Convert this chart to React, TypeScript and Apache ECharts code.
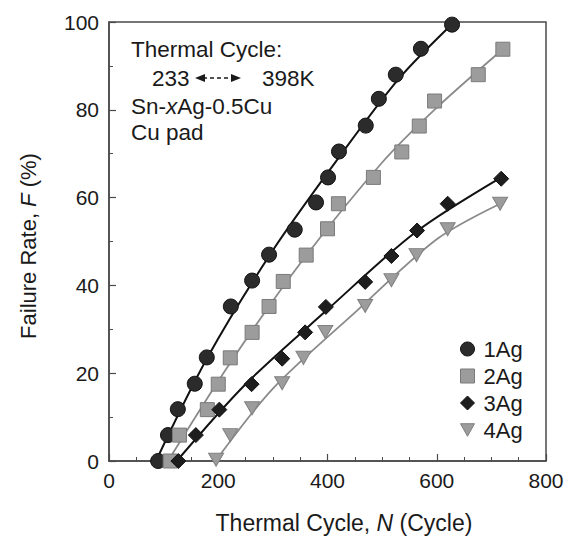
import React, { useEffect, useRef } from 'react';
import * as echarts from 'echarts';

const FONT = '"Liberation Sans", Arial, Helvetica, sans-serif';

const seriesNames = ['1Ag', '2Ag', '3Ag', '4Ag'];
const xTicks = [0, 200, 400, 600, 800];
const yTicks = [0, 20, 40, 60, 80, 100];

// measured points (cycles, failure rate %)
const ag1Cycles = [90, 108, 126, 157, 179, 223, 262, 293, 340, 379, 401, 421, 470, 494, 525, 571, 628];
const ag1Rates = [0, 5.9, 11.8, 17.6, 23.6, 35.2, 41.1, 47.0, 52.7, 58.9, 64.6, 70.5, 76.4, 82.5, 88.0, 93.9, 99.4];
const ag2Cycles = [112, 129, 180, 200, 222, 262, 293, 319, 361, 400, 420, 484, 536, 568, 596, 676, 721];
const ag2Rates = [0, 5.9, 11.7, 17.5, 23.5, 29.3, 35.2, 40.9, 46.9, 52.9, 58.6, 64.6, 70.4, 76.3, 82.0, 88.0, 93.8];
const ag3Cycles = [127, 159, 202, 261, 317, 359, 397, 469, 517, 564, 620, 718];
const ag3Rates = [0, 5.9, 11.7, 17.5, 23.3, 29.3, 35.1, 40.8, 46.7, 52.5, 58.6, 64.3];
const ag4Cycles = [196, 222, 262, 317, 356, 396, 469, 517, 563, 620, 716];
const ag4Rates = [0.3, 5.9, 12.0, 17.7, 23.5, 29.4, 35.3, 41.2, 46.9, 52.8, 58.6];

// fitted curves
const ag1FitCycles = [86, 180, 300, 420, 530, 632];
const ag1FitRates = [0, 23.5, 48, 69, 87, 100];
const ag2FitCycles = [108, 220, 350, 500, 600, 721];
const ag2FitRates = [0, 22, 45, 68, 80.5, 93.8];
const ag3FitCycles = [124, 250, 400, 560, 718];
const ag3FitRates = [0, 17.5, 34.5, 52, 64.6];
const ag4FitCycles = [195, 300, 450, 600, 716];
const ag4FitRates = [0, 16.5, 33.8, 50.5, 58.6];

const pairs = (xs: number[], ys: number[]) => xs.map((x, i) => [x, ys[i]]);

const TRI = 'path://M0,0L10,0L5,9Z';

export default function App() {
  const ref = useRef<HTMLDivElement>(null);
  useEffect(() => {
    if (!ref.current) return;
    const chart = echarts.init(ref.current, undefined, { renderer: 'svg' });
    const textColor = '#1a1a1a';
    const axisColor = '#4a4a4a';
    const axisCommon = {
      axisLine: { show: true, lineStyle: { color: axisColor, width: 1.5 } },
      axisTick: { show: true, inside: true, length: 7, lineStyle: { color: axisColor, width: 1.2 } },
      minorTick: { show: true, length: 4, lineStyle: { color: axisColor, width: 1 } },
      splitLine: { show: false },
      axisLabel: { fontSize: 21, color: textColor, fontFamily: FONT },
    };
    const markers = [
      { symbol: 'circle', size: 15, color: '#2b2b2b', border: '#111' },
      { symbol: 'rect', size: 14, color: '#9c9c9c', border: '#7a7a7a' },
      { symbol: 'diamond', size: 15, color: '#1e1e1e', border: '#111' },
      { symbol: TRI, size: [15, 13], color: '#9c9c9c', border: '#808080' },
    ];
    const data = [pairs(ag1Cycles, ag1Rates), pairs(ag2Cycles, ag2Rates), pairs(ag3Cycles, ag3Rates), pairs(ag4Cycles, ag4Rates)];
    const fits = [pairs(ag1FitCycles, ag1FitRates), pairs(ag2FitCycles, ag2FitRates), pairs(ag3FitCycles, ag3FitRates), pairs(ag4FitCycles, ag4FitRates)];
    const lineColors = ['#111', '#8a8a8a', '#111', '#8a8a8a'];
    const lineWidths = [2, 1.8, 2, 1.8];

    const series: any[] = [];
    fits.forEach((f, i) => {
      series.push({
        type: 'line',
        name: 'fit' + i,
        data: f,
        smooth: 0.3,
        showSymbol: false,
        symbol: 'none',
        z: 2,
        lineStyle: { color: lineColors[i], width: lineWidths[i] },
        silent: true,
      });
    });
    data.forEach((d, i) => {
      series.push({
        type: 'scatter',
        name: seriesNames[i],
        data: d,
        symbol: markers[i].symbol,
        symbolSize: markers[i].size,
        z: 3,
        clip: false,
        itemStyle: { color: markers[i].color, borderColor: markers[i].border, borderWidth: 1, opacity: 1 },
      });
    });

    const richTitle = (size: number) => ({
      n: { fontSize: size, fontFamily: FONT, fill: textColor },
      i: { fontSize: size, fontFamily: FONT, fontStyle: 'italic', fill: textColor },
    });

    chart.setOption({
      animation: false,
      grid: { left: 109, right: 22, top: 22, bottom: 81, show: true, borderColor: axisColor, borderWidth: 1.5 },
      xAxis: {
        type: 'value',
        min: xTicks[0],
        max: xTicks[xTicks.length - 1],
        interval: xTicks[1] - xTicks[0],
        ...axisCommon,
        minorTick: { ...axisCommon.minorTick, splitNumber: 4 },
        axisLabel: { ...axisCommon.axisLabel, margin: 9 },
      },
      yAxis: {
        type: 'value',
        min: yTicks[0],
        max: yTicks[yTicks.length - 1],
        interval: yTicks[1] - yTicks[0],
        ...axisCommon,
        minorTick: { ...axisCommon.minorTick, splitNumber: 2 },
        axisLabel: { ...axisCommon.axisLabel, margin: 10 },
      },
      legend: {
        orient: 'vertical',
        left: 460,
        top: 338,
        padding: 0,
        itemGap: 5,
        itemWidth: 14,
        itemHeight: 14,
        selectedMode: false,
        textStyle: { fontSize: 22, color: textColor, fontFamily: FONT, padding: [0, 0, 0, 4] },
        data: seriesNames.map((n, i) => ({
          name: n,
          icon: markers[i].symbol,
          itemStyle: { color: markers[i].color, borderColor: markers[i].border, borderWidth: 1 },
        })),
      },
      graphic: [
        {
          type: 'text',
          x: 344,
          y: 523,
          style: {
            text: '{n|Thermal Cycle, }{i|N}{n| (Cycle)}',
            align: 'center',
            verticalAlign: 'middle',
            rich: richTitle(23),
          },
        },
        {
          type: 'text',
          x: 28,
          y: 246,
          rotation: Math.PI / 2,
          style: {
            text: '{n|Failure Rate, }{i|F}{n| (%)}',
            align: 'center',
            verticalAlign: 'middle',
            rich: richTitle(22),
          },
        },
        { type: 'text', x: 131, y: 49, style: { text: 'Thermal Cycle:', fontSize: 22.5, fontFamily: FONT, fill: textColor, verticalAlign: 'middle' } },
        { type: 'text', x: 152, y: 78, style: { text: '233', fontSize: 22.5, fontFamily: FONT, fill: textColor, verticalAlign: 'middle' } },
        { type: 'text', x: 262, y: 78, style: { text: '398K', fontSize: 22.5, fontFamily: FONT, fill: textColor, verticalAlign: 'middle' } },
        { type: 'line', shape: { x1: 203, y1: 78, x2: 233, y2: 78 }, style: { stroke: textColor, lineWidth: 1.5, lineDash: [4, 3] } },
        { type: 'polygon', shape: { points: [[195, 78], [205, 74], [205, 82]] }, style: { fill: textColor } },
        { type: 'polygon', shape: { points: [[241, 78], [231, 74], [231, 82]] }, style: { fill: textColor } },
        {
          type: 'text',
          x: 131,
          y: 106,
          style: {
            text: '{n|Sn-}{i|x}{n|Ag-0.5Cu}',
            verticalAlign: 'middle',
            rich: richTitle(22.5),
          },
        },
        { type: 'text', x: 131, y: 132, style: { text: 'Cu pad', fontSize: 22.5, fontFamily: FONT, fill: textColor, verticalAlign: 'middle' } },
      ],
      series,
    });
    return () => chart.dispose();
  }, []);
  return <div ref={ref} style={{ position: 'fixed', left: 0, top: 0, width: 568, height: 542, background: '#fff' }} />;
}
